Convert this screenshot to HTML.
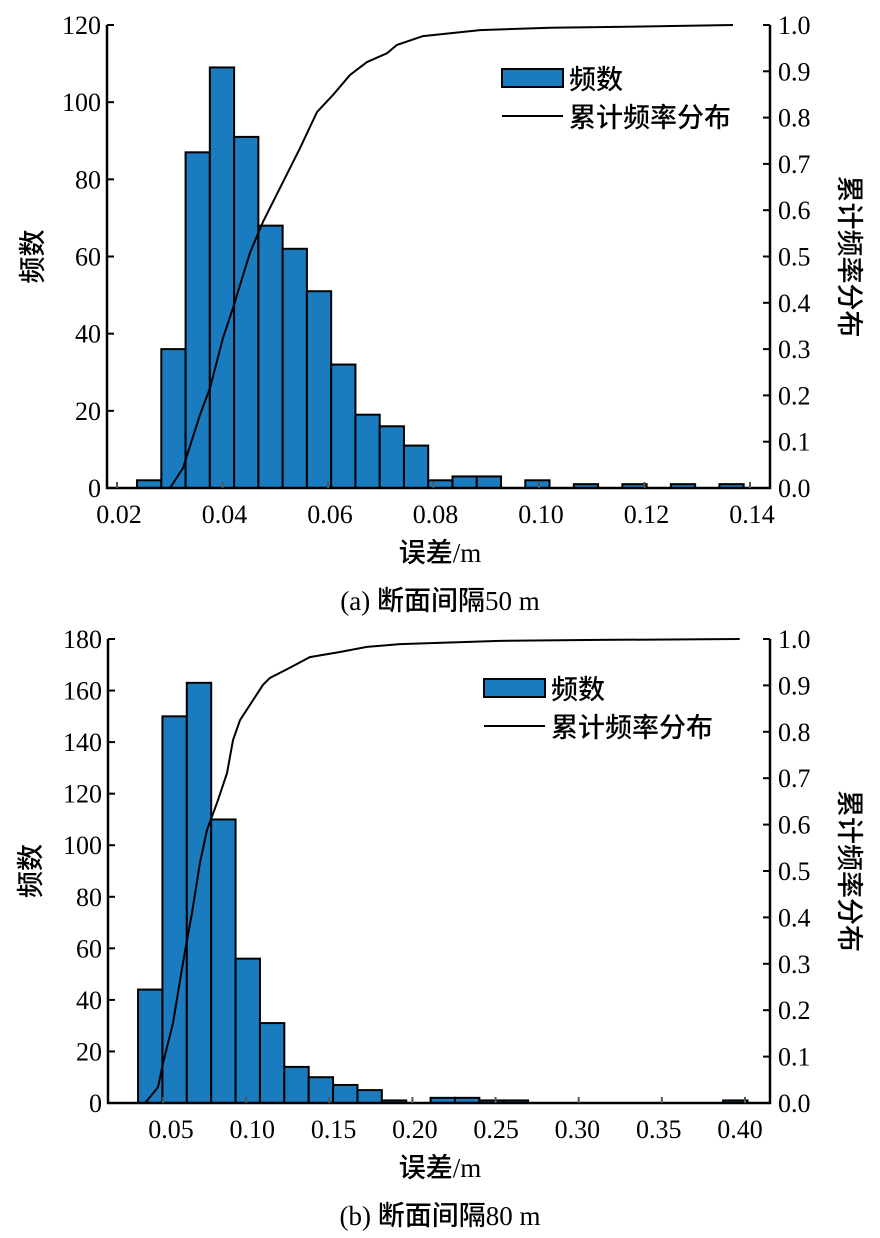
<!DOCTYPE html>
<html><head><meta charset="utf-8">
<style>
html,body{margin:0;padding:0;background:#fff;}
svg{display:block;}
text{font-family:"Liberation Serif","Noto Serif CJK SC","Noto Sans CJK SC",serif;fill:#000;}
.cjk{font-family:"Liberation Serif","Noto Sans CJK SC",sans-serif;font-weight:500;}
</style></head>
<body>
<svg id="fig" width="880" height="1238" viewBox="0 0 880 1238" xmlns="http://www.w3.org/2000/svg"></svg>
<script>
// ---- Chart (a) data ----
const aBinStart = 0.0238;
const aBinWidth = 0.0046;
const aCounts = [2,36,87,109,91,68,62,51,32,19,16,11,2,3,3,0,2,0,1,0,1,0,1,0,1];
const aCdfX = [0.02626,0.03005,0.03251,0.03573,0.03763,0.04009,0.04199,0.04521,0.04768,0.05090,0.05469,0.05791,0.06095,0.06417,0.06739,0.07118,0.07308,0.07801,0.08882,0.10209,0.12104,0.13678];
const aCdfY = [0,0,0.043,0.158,0.216,0.324,0.389,0.508,0.575,0.648,0.734,0.812,0.849,0.892,0.920,0.939,0.957,0.976,0.989,0.994,0.997,1.0];
const aXTicks = [0.02,0.04,0.06,0.08,0.10,0.12,0.14];
const aXTickLabels = ["0.02","0.04","0.06","0.08","0.10","0.12","0.14"];
const aYTicks = [0,20,40,60,80,100,120];
// ---- Chart (b) data ----
const bBinStart = 0.035;
const bBinWidth = 0.01466;
const bCounts = [44,150,163,110,56,31,14,10,7,5,1,0,2,2,1,1,0,0,0,0,0,0,0,0,1];
const bCdfX = [0.0392,0.0470,0.0500,0.0560,0.0620,0.0674,0.0722,0.0764,0.0825,0.0885,0.0921,0.0963,0.1041,0.1101,0.1143,0.1263,0.1383,0.1564,0.1726,0.1924,0.2525,0.3126,0.3968];
const bCdfY = [0,0.034,0.086,0.172,0.302,0.409,0.517,0.588,0.647,0.711,0.782,0.825,0.868,0.901,0.916,0.938,0.961,0.972,0.983,0.989,0.996,0.998,1.0];
const bXTicks = [0.05,0.10,0.15,0.20,0.25,0.30,0.35,0.40];
const bXTickLabels = ["0.05","0.10","0.15","0.20","0.25","0.30","0.35","0.40"];
const bYTicks = [0,20,40,60,80,100,120,140,160,180];
const rTicks = [0,0.1,0.2,0.3,0.4,0.5,0.6,0.7,0.8,0.9,1.0];
const rTickLabels = ["0.0","0.1","0.2","0.3","0.4","0.5","0.6","0.7","0.8","0.9","1.0"];

const NS="http://www.w3.org/2000/svg";
const svg=document.getElementById('fig');
function mk(tag,attrs,parent,txt){const e=document.createElementNS(NS,tag);for(const k in attrs)e.setAttribute(k,attrs[k]);if(txt!==undefined)e.textContent=txt;(parent||svg).appendChild(e);return e;}

function chart(cfg){
  const g=mk('g',{});
  
  
  const L=cfg.left,R=cfg.right,T=cfg.top,B=cfg.bottom;
  const xs=v=>cfg.x0px+(v-cfg.x0)/(cfg.x1-cfg.x0)*(cfg.x1px-cfg.x0px);
  const xl=v=>cfg.l0px+(v-cfg.x0)/(cfg.x1-cfg.x0)*(cfg.l1px-cfg.l0px);
  const ys=v=>B-v/cfg.ymax*(B-T);
  const rs=v=>B-v*(B-T);
  cfg.counts.forEach((c,i)=>{
    if(c<=0) return;
    const xa=xs(cfg.binStart+i*cfg.binWidth), xb=xs(cfg.binStart+(i+1)*cfg.binWidth);
    const r=mk('rect',{x:xa,y:ys(c),width:xb-xa,height:B-ys(c),fill:'#1a7bbf',stroke:'#000','stroke-width':2},g);
    
    
  });
  const pts=cfg.cdfX.map((x,i)=>xs(x)+','+rs(cfg.cdfY[i])).join(' ');
  const pl=mk('polyline',{points:pts,fill:'none',stroke:'#000','stroke-width':2},g);
  
  
  const ax=mk('path',{d:`M${L},${T}V${B}H${R}V${T}`,fill:'none',stroke:'#000','stroke-width':2.5},g);
  
  
  cfg.yTicks.forEach(v=>{
    mk('line',{x1:L,x2:L+7,y1:ys(v),y2:ys(v),stroke:'#000','stroke-width':2},g);
    const t=mk('text',{x:L-6,y:ys(v)+9,'text-anchor':'end','font-size':26},g,String(v));
    
    
  });
  rTicks.forEach((v,i)=>{
    mk('line',{x1:R,x2:R-7,y1:rs(v),y2:rs(v),stroke:'#000','stroke-width':2},g);
    const t=mk('text',{x:R+8,y:rs(v)+9,'font-size':26},g,rTickLabels[i]);
    
    
  });
  cfg.xTicks.forEach((v,i)=>{
    mk('line',{x1:xs(v),x2:xs(v),y1:B,y2:B-6,stroke:'#555','stroke-width':2},g);
    const t=mk('text',{x:xl(v),y:B+35,'text-anchor':'middle','font-size':26},g,cfg.xLabels[i]);
    
    
  });
  const lr=mk('rect',{x:cfg.legX,y:cfg.legY,width:61,height:18,fill:'#1a7bbf',stroke:'#000','stroke-width':2},g);
  
  
  const lt1=mk('text',{x:cfg.legX+67,y:cfg.legY+20,'font-size':27,class:'cjk'},g,'频数');
  
  
  mk('line',{x1:cfg.legX,x2:cfg.legX+61,y1:cfg.legY+47,y2:cfg.legY+47,stroke:'#000','stroke-width':2},g);
  const lt2=mk('text',{x:cfg.legX+67,y:cfg.legY+58,'font-size':27,class:'cjk'},g,'累计频率分布');
  
  
  const yl=mk('text',{x:0,y:0,'font-size':27,class:'cjk','text-anchor':'middle',transform:`translate(${cfg.ylx},${(T+B)/2}) rotate(-90)`},g,'频数');
  
  
  const yr=mk('text',{x:0,y:0,'font-size':27,class:'cjk','text-anchor':'middle',transform:`translate(${cfg.yrx},${(T+B)/2}) rotate(90)`},g,'累计频率分布');
  
  
  const xt=mk('text',{x:440,y:cfg.xtY,'font-size':27,class:'cjk','text-anchor':'middle'},g,'误差/m');
  
  
  const cp=mk('text',{x:440,y:cfg.capY,'font-size':27,class:'cjk','text-anchor':'middle'},g,cfg.caption);
  
  
}

chart({name:'chart-a',left:107,right:770,top:25,bottom:488,x0:0.02,x1:0.14,x0px:117,x1px:750,l0px:119,l1px:752,ymax:120,
  binStart:aBinStart,binWidth:aBinWidth,counts:aCounts,cdfX:aCdfX,cdfY:aCdfY,yTicks:aYTicks,xTicks:aXTicks,xLabels:aXTickLabels,
  legX:502,legY:69,ylx:42,yrx:840,xtY:562,capY:610,caption:'(a) 断面间隔50 m'});
chart({name:'chart-b',left:108,right:770,top:639,bottom:1103,x0:0.05,x1:0.40,x0px:163,x1px:745,l0px:171,l1px:740,ymax:180,
  binStart:bBinStart,binWidth:bBinWidth,counts:bCounts,cdfX:bCdfX,cdfY:bCdfY,yTicks:bYTicks,xTicks:bXTicks,xLabels:bXTickLabels,
  legX:484,legY:679,ylx:40,yrx:840,xtY:1177,capY:1225,caption:'(b) 断面间隔80 m'});
</script>
</body></html>
